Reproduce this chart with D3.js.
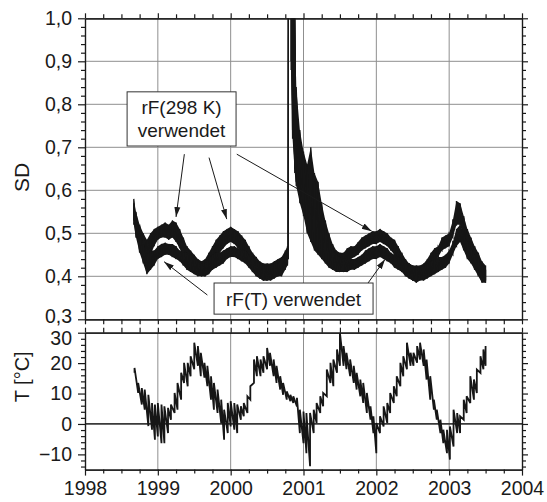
<!DOCTYPE html>
<html>
<head>
<meta charset="utf-8">
<title>SD und T</title>
<script src="https://d3js.org/d3.v7.min.js"></script>
<style>
  body {
    margin: 0;
    padding: 0;
    background: #fff;
    font-family: "Liberation Sans", Arial, Helvetica, sans-serif;
  }
  .axis path, .axis line { stroke: #1a1a1a; stroke-width: 1.2px; }
  .axis text { font-size: 19.5px; fill: #1a1a1a; font-family: "Liberation Sans", Arial, sans-serif; }
  .grid line { stroke: #8f8f8f; stroke-width: 1px; }
  .title { font-size: 21px; fill: #1a1a1a; }
  .note rect { fill: #fff; stroke: #333; stroke-width: 1px; }
  .note text { font-size: 19px; fill: #1a1a1a; }
  .arrow { stroke: #1a1a1a; stroke-width: 1px; fill: none; }
</style>
</head>
<body>
<div id="chart"></div>
<script>

// ---- SD panel: two series (rF(298 K) / rF(T)), noisy band as low/high per date
var sdDates = [1998.67,1998.70,1998.75,1998.80,1998.85,1998.90,1998.95,
  1999.00,1999.05,1999.10,1999.15,1999.20,1999.25,1999.30,1999.35,1999.40,1999.45,1999.50,1999.55,1999.60,1999.65,1999.70,1999.75,1999.80,1999.85,1999.90,1999.95,
  2000.00,2000.05,2000.10,2000.15,2000.20,2000.25,2000.30,2000.35,2000.40,2000.45,2000.50,2000.55,2000.60,2000.65,2000.70,2000.75,2000.78,2000.79,2000.81,2000.83,2000.85,2000.88,2000.90,2000.95,
  2001.00,2001.05,2001.10,2001.15,2001.20,2001.25,2001.30,2001.35,2001.40,2001.45,2001.50,2001.55,2001.60,2001.65,2001.70,2001.75,2001.80,2001.85,2001.90,2001.95,
  2002.00,2002.05,2002.10,2002.15,2002.20,2002.25,2002.30,2002.35,2002.40,2002.45,2002.50,2002.55,2002.60,2002.65,2002.70,2002.75,2002.80,2002.85,2002.90,2002.95,
  2003.00,2003.05,2003.10,2003.15,2003.20,2003.25,2003.30,2003.35,2003.40,2003.45,2003.50];

var sd298Lo = [0.53,0.50,0.47,0.45,0.435,0.45,0.47,
  0.485,0.49,0.49,0.485,0.49,0.48,0.465,0.44,0.43,0.415,0.41,0.405,0.40,0.40,0.41,0.425,0.44,0.455,0.465,0.475,
  0.48,0.475,0.465,0.455,0.44,0.425,0.415,0.405,0.395,0.39,0.39,0.395,0.40,0.40,0.405,0.42,0.43,0.44,null,0.90,0.74,0.65,0.62,0.58,
  0.55,0.51,0.49,0.47,0.455,0.445,0.435,0.425,0.42,0.415,0.42,0.425,0.435,0.44,0.445,0.45,0.46,0.465,0.47,0.475,
  0.475,0.48,0.475,0.47,0.46,0.45,0.435,0.42,0.405,0.395,0.39,0.39,0.395,0.395,0.405,0.42,0.435,0.445,0.46,0.465,
  0.47,0.49,0.52,0.52,0.49,0.47,0.44,0.43,0.41,0.395,0.39];
var sd298Hi = [0.58,0.55,0.52,0.50,0.485,0.50,0.51,
  0.515,0.52,0.525,0.52,0.53,0.525,0.51,0.49,0.47,0.46,0.45,0.44,0.435,0.44,0.455,0.47,0.485,0.495,0.505,0.51,
  0.515,0.51,0.505,0.495,0.485,0.47,0.455,0.445,0.435,0.43,0.43,0.43,0.435,0.44,0.445,0.46,0.47,1.20,null,1.20,1.20,1.05,0.84,0.74,
  0.69,0.66,0.70,0.64,0.62,0.57,0.53,0.50,0.475,0.46,0.455,0.455,0.465,0.47,0.47,0.48,0.49,0.495,0.50,0.505,
  0.505,0.51,0.505,0.50,0.49,0.485,0.47,0.455,0.44,0.43,0.425,0.425,0.425,0.43,0.44,0.455,0.465,0.47,0.49,0.495,
  0.50,0.53,0.575,0.57,0.54,0.51,0.49,0.47,0.455,0.435,0.425];

var sdTLo = [0.52,0.49,0.455,0.43,0.405,0.415,0.425,
  0.44,0.445,0.45,0.45,0.445,0.44,0.435,0.425,0.415,0.41,0.405,0.40,0.40,0.40,0.405,0.415,0.42,0.425,0.43,0.44,
  0.445,0.445,0.44,0.435,0.43,0.42,0.41,0.40,0.395,0.39,0.39,0.39,0.395,0.40,0.40,0.415,0.425,0.44,null,0.88,0.72,0.64,0.61,0.57,
  0.54,0.50,0.48,0.46,0.45,0.44,0.43,0.42,0.415,0.41,0.41,0.41,0.41,0.415,0.415,0.42,0.425,0.43,0.435,0.44,
  0.44,0.445,0.44,0.435,0.43,0.42,0.415,0.41,0.40,0.395,0.39,0.385,0.39,0.39,0.395,0.40,0.405,0.41,0.415,0.42,
  0.43,0.45,0.47,0.48,0.46,0.44,0.43,0.415,0.40,0.385,0.385];
var sdTHi = [0.57,0.54,0.50,0.475,0.45,0.46,0.46,
  0.47,0.475,0.478,0.475,0.475,0.47,0.46,0.455,0.455,0.45,0.44,0.435,0.43,0.43,0.44,0.45,0.455,0.455,0.46,0.465,
  0.47,0.47,0.465,0.46,0.46,0.45,0.445,0.435,0.43,0.425,0.425,0.425,0.43,0.43,0.44,0.45,0.46,1.20,null,1.20,1.15,1.00,0.82,0.72,
  0.68,0.65,0.68,0.62,0.60,0.56,0.52,0.49,0.465,0.45,0.445,0.44,0.44,0.44,0.44,0.445,0.45,0.46,0.465,0.47,
  0.47,0.475,0.47,0.465,0.455,0.45,0.445,0.44,0.435,0.43,0.425,0.42,0.42,0.425,0.43,0.435,0.44,0.445,0.445,0.45,
  0.46,0.48,0.51,0.52,0.50,0.48,0.465,0.45,0.44,0.425,0.415];

// ---- T panel: temperature, low/high per date
var tDates = [1998.68,1998.73,1998.78,1998.82,1998.87,1998.92,1998.96,
  1999.00,1999.05,1999.09,1999.14,1999.18,1999.23,1999.27,1999.32,1999.36,1999.41,1999.45,1999.50,1999.55,1999.59,1999.64,1999.68,1999.73,1999.77,1999.82,1999.87,1999.91,1999.96,
  2000.00,2000.05,2000.09,2000.14,2000.18,2000.23,2000.27,2000.32,2000.36,2000.41,2000.45,2000.50,2000.54,2000.59,2000.63,2000.68,2000.72,2000.77,2000.82,2000.86,2000.91,2000.95,
  2001.00,2001.04,2001.09,2001.14,2001.18,2001.23,2001.27,2001.32,2001.37,2001.41,2001.46,2001.50,2001.55,2001.59,2001.64,2001.69,2001.73,2001.78,2001.82,2001.87,2001.92,2001.96,
  2002.00,2002.05,2002.10,2002.15,2002.19,2002.24,2002.28,2002.33,2002.37,2002.42,2002.47,2002.51,2002.56,2002.60,2002.65,2002.69,2002.74,2002.79,2002.83,2002.88,2002.92,2002.97,
  2003.01,2003.06,2003.11,2003.15,2003.20,2003.24,2003.29,2003.34,2003.38,2003.43,2003.47,2003.50];
var tHi = [18.4,13.5,11.8,11.3,9.6,6.9,6.4,
  6.9,6.4,5.8,5.3,6.4,10.2,13.5,16.8,20.1,20.1,22.3,26.7,25.6,23.4,20.1,19.1,15.7,13.5,11.3,8.0,4.7,6.9,
  7.5,6.9,6.4,5.8,6.9,9.1,12.4,21.2,22.3,21.2,22.3,25.0,23.4,21.2,19.1,15.7,13.5,10.7,9.6,9.1,8.6,4.7,
  4.1,3.6,3.6,4.7,6.9,9.1,10.2,17.9,20.1,21.2,24.5,30.0,25.6,23.4,21.2,19.1,16.8,14.6,13.5,10.2,5.8,2.5,
  0.3,2.5,5.8,6.9,10.2,12.4,15.7,20.1,22.3,26.7,23.4,23.4,25.6,26.7,24.5,21.2,15.7,8.0,4.7,1.4,-1.9,-1.9,
  -0.8,4.7,3.6,2.5,8.0,9.1,15.7,14.6,17.9,22.3,24.5,25.6];
var tLo = [16.8,10.2,6.4,4.7,-0.7,-1.9,-5.2,
  -4.1,-6.3,-6.3,-3.0,1.4,3.6,4.7,8.0,13.5,12.4,15.7,18.0,19.1,15.7,15.2,12.4,8.0,4.7,3.6,0.3,-5.2,-3.0,
  -0.8,-1.9,-3.0,1.4,2.5,3.6,8.0,13.5,15.7,15.7,16.8,18.0,19.1,15.7,13.5,11.3,9.6,8.0,7.5,6.9,5.8,-3.0,
  -6.3,-9.6,-13.9,-3.0,0.3,3.6,5.8,9.1,13.5,12.4,16.8,19.1,19.1,18.0,15.7,13.5,11.3,9.1,6.9,3.6,1.4,-3.0,
  -9.6,-3.0,-0.8,0.3,3.6,6.9,9.1,12.4,15.7,18.0,19.1,19.1,20.1,21.2,19.1,14.6,8.0,4.7,1.4,-3.0,-6.3,-9.6,
  -11.7,-7.4,-3.0,-3.0,1.4,3.6,6.9,8.0,10.2,16.8,18.0,19.1];

// ---- ticks
var yearTicks = [1998, 1999, 2000, 2001, 2002, 2003, 2004];
var sdTicks = [0.3, 0.4, 0.5, 0.6, 0.7, 0.8, 0.9, 1.0];
var sdGrid = [0.4, 0.5, 0.6, 0.7, 0.8, 0.9];
var tTicks = [-10, 0, 10, 20, 30];

// ---- annotations (data units)
var notes = [
  { lines: ["rF(298 K)", "verwendet"], x0: 1998.578, x1: 2000.074, y0: 0.829, y1: 0.703 },
  { lines: ["rF(T) verwendet"], x0: 1999.772, x1: 2001.955, y0: 0.3844, y1: 0.312 }
];
var arrows = [
  [1999.364, 0.684, 1999.25, 0.538],
  [1999.703, 0.676, 1999.946, 0.533],
  [2000.084, 0.684, 2001.937, 0.505],
  [1999.68, 0.3565, 1999.086, 0.434],
  [2001.859, 0.378, 2002.12, 0.4395]
];

var width = 547, height = 502;
var left = 85, right = 522;

var x = d3.scaleLinear().domain([1998, 2004]).range([left, right]);
var ySD = d3.scaleLinear().domain([0.3, 1.0]).range([319.3, 18.3]);
var yT = d3.scaleLinear().domain([-15, 30]).range([469.6, 332.7]);

var svg = d3.select("#chart").append("svg")
    .attr("width", width)
    .attr("height", height);

var defs = svg.append("defs");
defs.append("clipPath").attr("id", "clipSD").append("rect")
    .attr("x", left).attr("y", ySD(1.0)).attr("width", right - left).attr("height", ySD(0.3) - ySD(1.0));
defs.append("clipPath").attr("id", "clipT").append("rect")
    .attr("x", left).attr("y", yT(30)).attr("width", right - left).attr("height", yT(-15) - yT(30));
defs.append("marker")
    .attr("id", "head")
    .attr("viewBox", "0 -4 10 8")
    .attr("refX", 10).attr("refY", 0)
    .attr("markerWidth", 10).attr("markerHeight", 8)
    .attr("markerUnits", "userSpaceOnUse")
    .attr("orient", "auto")
  .append("path")
    .attr("d", "M0,-3L10,0L0,3Z")
    .attr("fill", "#1a1a1a");

// grid
var grid = svg.append("g").attr("class", "grid");
grid.selectAll(".gx").data(yearTicks.slice(1, -1)).enter().append("line")
    .attr("x1", function(d) { return x(d); }).attr("x2", function(d) { return x(d); })
    .attr("y1", ySD(1.0)).attr("y2", ySD(0.3));
grid.selectAll(".gxt").data(yearTicks.slice(1, -1)).enter().append("line")
    .attr("x1", function(d) { return x(d); }).attr("x2", function(d) { return x(d); })
    .attr("y1", yT(30)).attr("y2", yT(-15));
grid.selectAll(".gy").data(sdGrid).enter().append("line")
    .attr("x1", left).attr("x2", right)
    .attr("y1", function(d) { return ySD(d); }).attr("y2", function(d) { return ySD(d); });

svg.append("line")
    .attr("x1", left).attr("x2", right)
    .attr("y1", yT(0)).attr("y2", yT(0))
    .attr("stroke", "#3a3a3a").attr("stroke-width", 1.8);

// saw-tooth through low/high of every date
function band(dates, lo, hi) {
  var pts = [];
  dates.forEach(function(d, i) {
    if (lo[i] == null) { pts.push(null); return; }
    pts.push([d, lo[i]], [d, hi[i]]);
  });
  return pts;
}

var lineSD = d3.line()
    .defined(function(d) { return d != null; })
    .x(function(d) { return x(d[0]); })
    .y(function(d) { return ySD(d[1]); });

var areaSD = d3.area()
    .defined(function(d) { return d.lo != null; })
    .x(function(d) { return x(d.t); })
    .y0(function(d) { return ySD(d.lo); })
    .y1(function(d) { return ySD(d.hi); });

var lineT = d3.line()
    .x(function(d) { return x(d[0]); })
    .y(function(d) { return yT(d[1]); });

var gSD = svg.append("g").attr("clip-path", "url(#clipSD)");
[[sd298Lo, sd298Hi], [sdTLo, sdTHi]].forEach(function(s) {
  var rows = sdDates.map(function(t, i) { return { t: t, lo: s[0][i], hi: s[1][i] }; });
  gSD.append("path")
      .datum(rows)
      .attr("d", areaSD)
      .attr("fill", "#161616");
  gSD.append("path")
      .datum(band(sdDates, s[0], s[1]))
      .attr("d", lineSD)
      .attr("fill", "none")
      .attr("stroke", "#161616")
      .attr("stroke-width", 1.3);
});

svg.append("g").attr("clip-path", "url(#clipT)")
  .append("path")
    .datum(band(tDates, tLo, tHi))
    .attr("d", lineT)
    .attr("fill", "none")
    .attr("stroke", "#161616")
    .attr("stroke-width", 1.8);

// axes
function comma(d) { return d3.format(".1f")(d).replace(".", ","); }
var quarterTicks = d3.range(1998.25, 2004, 0.25).filter(function(d) { return d % 1 !== 0; });
var sdMinor = d3.range(0.32, 1.0, 0.02).filter(function(d) { return Math.round(d * 100) % 10 !== 0; });
var tMinor = d3.range(-14, 30, 2).filter(function(d) { return d % 10 !== 0; });

function addAxis(axis, tx, ty) {
  return svg.append("g")
      .attr("class", "axis")
      .attr("transform", "translate(" + tx + "," + ty + ")")
      .call(axis);
}

// SD panel
var sdLeft = addAxis(d3.axisLeft(ySD).tickValues(sdTicks).tickFormat(comma).tickSize(7).tickPadding(6).tickSizeOuter(0), left, 0);
sdLeft.selectAll("text").filter(function(d) { return d === 0.3; }).attr("dy", "0.15em");
addAxis(d3.axisLeft(ySD).tickValues(sdMinor).tickFormat("").tickSize(4).tickSizeOuter(0), left, 0);
addAxis(d3.axisRight(ySD).tickValues(sdTicks).tickFormat("").tickSize(6).tickSizeOuter(0), right, 0);
addAxis(d3.axisRight(ySD).tickValues(sdMinor).tickFormat("").tickSize(4).tickSizeOuter(0), right, 0);
addAxis(d3.axisTop(x).tickValues(yearTicks).tickFormat("").tickSize(5).tickSizeOuter(0), 0, ySD(1.0));
addAxis(d3.axisTop(x).tickValues(quarterTicks).tickFormat("").tickSize(4).tickSizeOuter(0), 0, ySD(1.0));
addAxis(d3.axisBottom(x).tickValues(yearTicks).tickFormat("").tickSize(5).tickSizeOuter(0), 0, ySD(0.3));
addAxis(d3.axisBottom(x).tickValues(quarterTicks).tickFormat("").tickSize(5).tickSizeOuter(0), 0, ySD(0.3));

// T panel
var tLeft = addAxis(d3.axisLeft(yT).tickValues(tTicks).tickSize(7).tickPadding(6).tickSizeOuter(0), left, 0);
tLeft.selectAll("text").filter(function(d) { return d === 30; }).attr("dy", "0.6em");
addAxis(d3.axisLeft(yT).tickValues(tMinor).tickFormat("").tickSize(4).tickSizeOuter(0), left, 0);
addAxis(d3.axisRight(yT).tickValues(tTicks).tickFormat("").tickSize(6).tickSizeOuter(0), right, 0);
addAxis(d3.axisRight(yT).tickValues(tMinor).tickFormat("").tickSize(4).tickSizeOuter(0), right, 0);
addAxis(d3.axisTop(x).tickValues(yearTicks).tickFormat("").tickSize(5).tickSizeOuter(0), 0, yT(30));
addAxis(d3.axisTop(x).tickValues(quarterTicks).tickFormat("").tickSize(5).tickSizeOuter(0), 0, yT(30));
addAxis(d3.axisBottom(x).tickValues(yearTicks).tickFormat(d3.format("d")).tickSize(6).tickPadding(6).tickSizeOuter(0), 0, yT(-15));
addAxis(d3.axisBottom(x).tickValues(quarterTicks).tickFormat("").tickSize(4).tickSizeOuter(0), 0, yT(-15));

// axis titles
svg.append("text").attr("class", "title")
    .attr("transform", "translate(29," + ySD(0.63) + ") rotate(-90)")
    .attr("text-anchor", "middle")
    .text("SD");
svg.append("text").attr("class", "title")
    .attr("transform", "translate(29," + yT(15.5) + ") rotate(-90)")
    .attr("text-anchor", "middle")
    .style("font-size", "20px")
    .text("T [°C]");

// annotations
var ann = svg.append("g");
arrows.forEach(function(a) {
  ann.append("line")
      .attr("class", "arrow")
      .attr("x1", x(a[0])).attr("y1", ySD(a[1]))
      .attr("x2", x(a[2])).attr("y2", ySD(a[3]))
      .attr("marker-end", "url(#head)");
});

notes.forEach(function(n) {
  var g = ann.append("g").attr("class", "note");
  g.append("rect")
      .attr("x", x(n.x0)).attr("y", ySD(n.y0))
      .attr("width", x(n.x1) - x(n.x0))
      .attr("height", ySD(n.y1) - ySD(n.y0));
  var cx = (x(n.x0) + x(n.x1)) / 2;
  var h = ySD(n.y1) - ySD(n.y0);
  var step = 23;
  var first = ySD(n.y0) + h / 2 - (n.lines.length - 1) * step / 2 + 7;
  n.lines.forEach(function(t, i) {
    g.append("text")
        .attr("x", cx)
        .attr("y", first + i * step)
        .attr("text-anchor", "middle")
        .text(t);
  });
});

</script>
</body>
</html>
